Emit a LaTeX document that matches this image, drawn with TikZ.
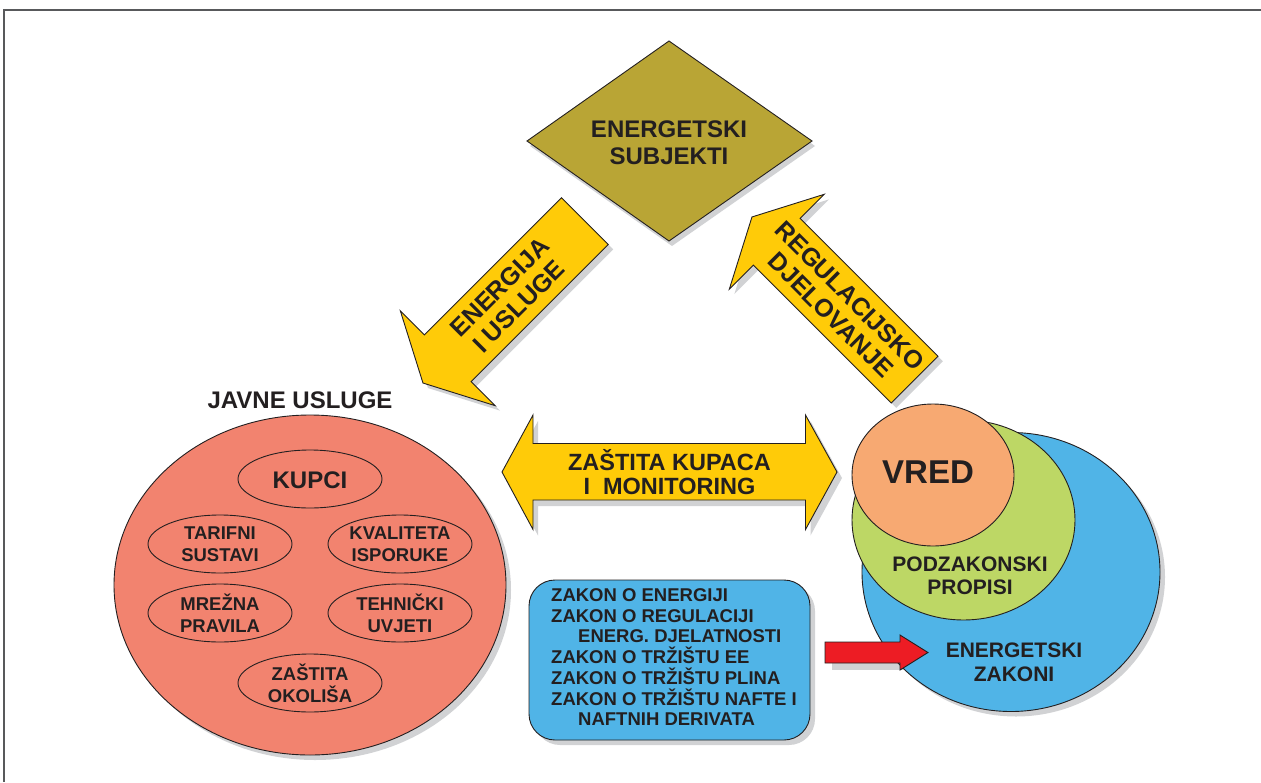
\documentclass[tikz,border=0pt]{standalone}
\usepackage{fontspec}
\setmainfont{Liberation Sans}

\definecolor{subjcol}{HTML}{B9A535}
\definecolor{arrowcol}{HTML}{FFCB08}
\definecolor{javnecol}{HTML}{F2836F}
\definecolor{zakoncol}{HTML}{50B4E7}
\definecolor{propiscol}{HTML}{BDD765}
\definecolor{vredcol}{HTML}{F7A972}
\definecolor{redcol}{HTML}{ED1C24}
\definecolor{shadowcol}{HTML}{D1D2D4}
\definecolor{linecol}{HTML}{231F20}
\definecolor{framecol}{HTML}{58595B}

\begin{document}
\begin{tikzpicture}[x=10pt,y=10pt,
	outline/.style={draw=linecol, line width=0.9pt},
	dropsh/.style={preaction={fill=shadowcol, draw=none, transform canvas={shift={(#1)}}}},
	dropsh/.default={5pt,-5pt},
	txt/.style={text=linecol, align=center},
	subjtxt/.style={txt, font=\fontsize{24}{27}\selectfont\bfseries},
	arrtxt/.style={txt, font=\fontsize{25}{27}\selectfont\bfseries},
	kupactxt/.style={txt, font=\fontsize{23.5}{23.5}\selectfont\bfseries},
	bigtxt/.style={txt, font=\fontsize{24}{27}\selectfont\bfseries},
	smalltxt/.style={txt, font=\fontsize{18.5}{22}\selectfont\bfseries},
	lawtxt/.style={txt, font=\fontsize{21}{23.5}\selectfont\bfseries},
	boxtxt/.style={txt, align=left, font=\fontsize{18.5}{20.7}\selectfont\bfseries},
	smallell/.style={outline, fill=javnecol}]
	\tikzstyle{every node}+=[inner sep=0pt]
	\useasboundingbox (0,0) rectangle (126.1,-78.2);
	% frame
	\draw [framecol, line width=2pt] (126.1,-1.0) -- (0.4,-1.0) -- (0.4,-78.2);
	% energetski subjekti
	\draw [outline, fill=subjcol, dropsh={3pt,-5pt}] (66.9,-4.1) -- (81.2,-14.1) -- (66.9,-24.1) -- (52.7,-14.1) -- cycle;
	\node [subjtxt] (subjekti) at (66.9,-14.29) {ENERGETSKI\\SUBJEKTI};
	% energija i usluge
	\begin{scope}[shift={(58.49,-22.11)}, rotate=225]
		\draw [outline, fill=arrowcol, dropsh] (0,-3.3) -- (19.4,-3.3) -- (19.4,-6.7) -- (22.9,0) -- (19.4,6.7) -- (19.4,3.3) -- (0,3.3) -- cycle;
		\node [arrtxt, rotate=45] (energija) at (10.7,0) {ENERGIJA\\I USLUGE};
	\end{scope}
	% regulacijsko djelovanje
	\begin{scope}[shift={(91.46,-37.96)}, rotate=135]
		\draw [outline, fill=arrowcol, dropsh] (0,-3.3) -- (19.5,-3.3) -- (19.5,-6.7) -- (23.0,0) -- (19.5,6.7) -- (19.5,3.3) -- (0,3.3) -- cycle;
		\node [arrtxt, rotate=-45] (regulacija) at (10.5,0) {REGULACIJSKO\\DJELOVANJE};
	\end{scope}
	% zastita kupaca
	\draw [outline, fill=arrowcol, dropsh={5pt,-6pt}] (50.2,-47.2) -- (53.3,-41.5) -- (53.3,-44.35) -- (80.55,-44.35) -- (80.55,-41.5) -- (83.7,-47.2) -- (80.55,-52.95) -- (80.55,-50.0) -- (53.3,-50.0) -- (53.3,-52.95) -- cycle;
	\node [kupactxt] (zastita) at (66.95,-47.2) {ZAŠTITA KUPACA\\I\ \ MONITORING};
	% javne usluge
	\node [bigtxt, anchor=base] (javne) at (30.0,-40.8) {JAVNE USLUGE};
	\draw [outline, fill=javnecol, dropsh] (31.0,-58.5) ellipse [x radius=19.6, y radius=17.0];
	\draw [smallell] (31.0,-47.9) ellipse [x radius=7.2, y radius=2.9];
	\node [bigtxt, anchor=base] (kupci) at (31.0,-48.83) {KUPCI};
	\draw [smallell] (22.0,-54.4) ellipse [x radius=7.2, y radius=2.9];
	\node [smalltxt] (tarifni) at (22.0,-54.45) {TARIFNI\\SUSTAVI};
	\draw [smallell] (40.0,-54.4) ellipse [x radius=7.2, y radius=2.9];
	\node [smalltxt] (kvaliteta) at (40.0,-54.45) {KVALITETA\\ISPORUKE};
	\draw [smallell] (22.0,-61.3) ellipse [x radius=7.2, y radius=2.9];
	\node [smalltxt] (mrezna) at (22.0,-61.3) {MREŽNA\\PRAVILA};
	\draw [smallell] (40.0,-61.3) ellipse [x radius=7.2, y radius=2.9];
	\node [smalltxt] (tehnicki) at (40.0,-61.3) {TEHNIČKI\\UVJETI};
	\draw [smallell] (31.0,-68.3) ellipse [x radius=7.2, y radius=2.9];
	\node [smalltxt] (okolis) at (31.0,-68.3) {ZAŠTITA\\OKOLIŠA};
	% zakoni
	\draw [outline, fill=zakoncol, rounded corners=26pt, dropsh] (52.9,-58.0) rectangle (81.0,-74.0);
	\node [boxtxt, anchor=west] (popis) at (55.1,-65.72) {ZAKON O ENERGIJI\\ZAKON O REGULACIJI\\\hspace*{27pt}ENERG. DJELATNOSTI\\ZAKON O TRŽIŠTU EE\\ZAKON O TRŽIŠTU PLINA\\ZAKON O TRŽIŠTU NAFTE I\\\hspace*{27pt}NAFTNIH DERIVATA};
	\fill [shadowcol] (83.2,-64.9) rectangle (90.7,-67.0);
	\draw [outline, fill=zakoncol, dropsh] (101.1,-57.2) ellipse [x radius=14.9, y radius=13.95];
	\draw [outline, fill=propiscol] (96.35,-52.0) ellipse [x radius=11.15, y radius=10.0];
	\draw [outline, fill=vredcol] (93.3,-47.5) ellipse [x radius=8.1, y radius=7.1];
	\node [txt, font=\fontsize{33}{36}\selectfont\bfseries, anchor=base] (vred) at (92.8,-48.3) {VRED};
	\node [lawtxt] (propisi) at (97.0,-57.6) {PODZAKONSKI\\PROPISI};
	\node [lawtxt] (energzakoni) at (101.4,-66.25) {ENERGETSKI\\ZAKONI};
	\draw [outline, fill=redcol] (82.5,-64.2) -- (90.0,-64.2) -- (90.0,-63.5) -- (92.8,-65.25) -- (90.0,-67.0) -- (90.0,-66.3) -- (82.5,-66.3) -- cycle;
\end{tikzpicture}
\end{document}
